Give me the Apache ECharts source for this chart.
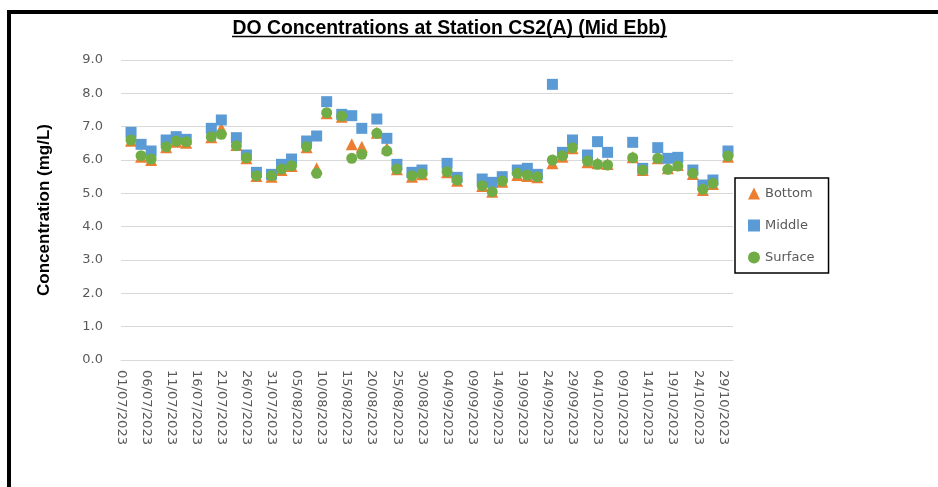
<!DOCTYPE html>
<html lang="en">

<head>
    <meta charset="UTF-8">
    <title>DO Concentrations</title>
    <style>
        body { margin: 0; background: #fff; }
    </style>
</head>

<body>
    <div id="main" style="width: 938px;height:487px;"></div>
    <script src="https://cdn.jsdelivr.net/npm/echarts@6/dist/echarts.min.js"></script>
    <script>
        // sampling dates (dd/mm/yyyy)
        var dates = ['03/07/2023', '05/07/2023', '07/07/2023', '10/07/2023', '12/07/2023', '14/07/2023',
            '19/07/2023', '21/07/2023', '24/07/2023', '26/07/2023', '28/07/2023', '31/07/2023',
            '02/08/2023', '04/08/2023', '07/08/2023', '09/08/2023', '11/08/2023', '14/08/2023',
            '16/08/2023', '18/08/2023', '21/08/2023', '23/08/2023', '25/08/2023', '28/08/2023',
            '30/08/2023', '04/09/2023', '06/09/2023', '11/09/2023', '13/09/2023', '15/09/2023',
            '18/09/2023', '20/09/2023', '22/09/2023', '25/09/2023', '27/09/2023', '29/09/2023',
            '02/10/2023', '04/10/2023', '06/10/2023', '11/10/2023', '13/10/2023', '16/10/2023',
            '18/10/2023', '20/10/2023', '23/10/2023', '25/10/2023', '27/10/2023', '30/10/2023'];

        var bottom = [6.58, 6.1, 6.0, 6.38, 6.55, 6.52, 6.68, 6.95, 6.45, 6.05, 5.52, 5.5,
            5.7, 5.82, 6.38, 5.75, 7.4, 7.3, 6.47, 6.4, 6.82, 6.35, 5.72, 5.5,
            5.57, 5.63, 5.38, 5.22, 5.05, 5.35, 5.55, 5.52, 5.48, 5.9, 6.1, 6.35,
            5.93, 5.9, 5.88, 6.08, 5.7, 6.05, 5.75, 5.85, 5.58, 5.1, 5.28, 6.1];

        var middle = [6.83, 6.47, 6.27, 6.6, 6.7, 6.62, 6.95, 7.2, 6.67, 6.15, 5.63, 5.57,
            5.87, 6.03, 6.57, 6.72, 7.75, 7.37, 7.33, 6.95, 7.23, 6.65, 5.87, 5.63,
            5.7, 5.9, 5.48, 5.43, 5.33, 5.5, 5.7, 5.75, 5.57, 8.27, 6.23, 6.6,
            6.15, 6.55, 6.23, 6.53, 5.75, 6.37, 6.05, 6.08, 5.7, 5.25, 5.4, 6.27];

        var surface = [6.6, 6.13, 6.03, 6.4, 6.57, 6.55, 6.7, 6.77, 6.43, 6.07, 5.53, 5.53,
            5.73, 5.83, 6.4, 5.6, 7.42, 7.32, 6.05, 6.17, 6.8, 6.27, 5.73, 5.53,
            5.59, 5.65, 5.4, 5.23, 5.05, 5.37, 5.6, 5.55, 5.5, 6.0, 6.13, 6.37,
            5.97, 5.87, 5.85, 6.07, 5.7, 6.05, 5.72, 5.82, 5.6, 5.12, 5.3, 6.12];

        var yTicks = [0, 9, 1];
        var startDate = '01/07/2023';
        var endDate = '31/10/2023';

        var DAY = 86400000;
        function toMs(s) {
            var p = s.split('/');
            return Date.UTC(+p[2], +p[1] - 1, +p[0]);
        }
        function dayIdx(s) {
            return Math.round((toMs(s) - toMs(startDate)) / DAY);
        }
        function fmtDay(v) {
            var d = new Date(toMs(startDate) + v * DAY);
            var dd = ('0' + d.getUTCDate()).slice(-2);
            var mm = ('0' + (d.getUTCMonth() + 1)).slice(-2);
            return dd + '/' + mm + '/' + d.getUTCFullYear();
        }
        function pairs(vals) {
            return vals.map(function (v, i) { return [dayIdx(dates[i]), v]; });
        }

        var myChart = echarts.init(document.getElementById('main'));

        var option = {
            animation: false,
            backgroundColor: '#fff',
            title: {
                text: 'DO Concentrations at Station CS2(A) (Mid Ebb)',
                left: 444.5,
                textAlign: 'center',
                top: 14,
                textStyle: {
                    fontFamily: 'Liberation Sans',
                    fontSize: 19.4,
                    fontWeight: 'bold',
                    color: '#000'
                }
            },
            graphic: [
                {
                    type: 'rect',
                    shape: { x: 9, y: 12, width: 960, height: 500 },
                    style: { fill: 'none', stroke: '#000', lineWidth: 4 },
                    silent: true
                },
                {
                    type: 'line',
                    shape: { x1: 232, y1: 36.5, x2: 667, y2: 36.5 },
                    style: { stroke: '#000', lineWidth: 1.5 },
                    silent: true
                }
            ],
            grid: {
                left: 121,
                right: 205,
                top: 60,
                bottom: 127
            },
            legend: {
                orient: 'vertical',
                left: 735,
                top: 178,
                padding: [9, 14, 9, 13],
                itemGap: 19,
                itemWidth: 12,
                itemHeight: 12,
                borderColor: '#000',
                borderWidth: 1.5,
                textStyle: {
                    fontFamily: 'DejaVu Sans',
                    fontSize: 13,
                    color: '#595959'
                },
                data: [
                    { name: 'Bottom', icon: 'triangle' },
                    { name: 'Middle', icon: 'rect' },
                    { name: 'Surface', icon: 'circle' }
                ]
            },
            xAxis: {
                type: 'value',
                min: dayIdx(startDate),
                max: dayIdx(endDate),
                interval: 5,
                axisLine: { show: true, lineStyle: { color: '#d9d9d9', width: 1 } },
                axisTick: { show: false },
                splitLine: { show: false },
                axisLabel: {
                    rotate: -90,
                    margin: 10,
                    showMaxLabel: false,
                    fontFamily: 'DejaVu Sans',
                    fontSize: 13,
                    color: '#595959',
                    formatter: fmtDay
                }
            },
            yAxis: {
                type: 'value',
                min: yTicks[0],
                max: yTicks[1],
                interval: yTicks[2],
                name: 'Concentration (mg/L)',
                nameLocation: 'middle',
                nameGap: 68,
                nameTextStyle: {
                    fontFamily: 'Liberation Sans',
                    fontSize: 17,
                    fontWeight: 'bold',
                    color: '#000'
                },
                axisLine: { show: false },
                axisTick: { show: false },
                splitLine: { lineStyle: { color: '#d9d9d9', width: 1 } },
                axisLabel: {
                    margin: 18,
                    fontFamily: 'DejaVu Sans',
                    fontSize: 13,
                    color: '#595959',
                    formatter: function (v) { return v.toFixed(1); }
                }
            },
            series: [
                {
                    name: 'Bottom',
                    type: 'scatter',
                    symbol: 'triangle',
                    symbolSize: 12,
                    itemStyle: { color: '#ED7D31', opacity: 1 },
                    data: pairs(bottom)
                },
                {
                    name: 'Middle',
                    type: 'scatter',
                    symbol: 'rect',
                    symbolSize: 11,
                    itemStyle: { color: '#5B9BD5', opacity: 1 },
                    data: pairs(middle)
                },
                {
                    name: 'Surface',
                    type: 'scatter',
                    symbol: 'circle',
                    symbolSize: 11,
                    itemStyle: { color: '#70AD47', opacity: 1 },
                    data: pairs(surface)
                }
            ]
        };
        myChart.setOption(option);
    </script>
</body>

</html>
